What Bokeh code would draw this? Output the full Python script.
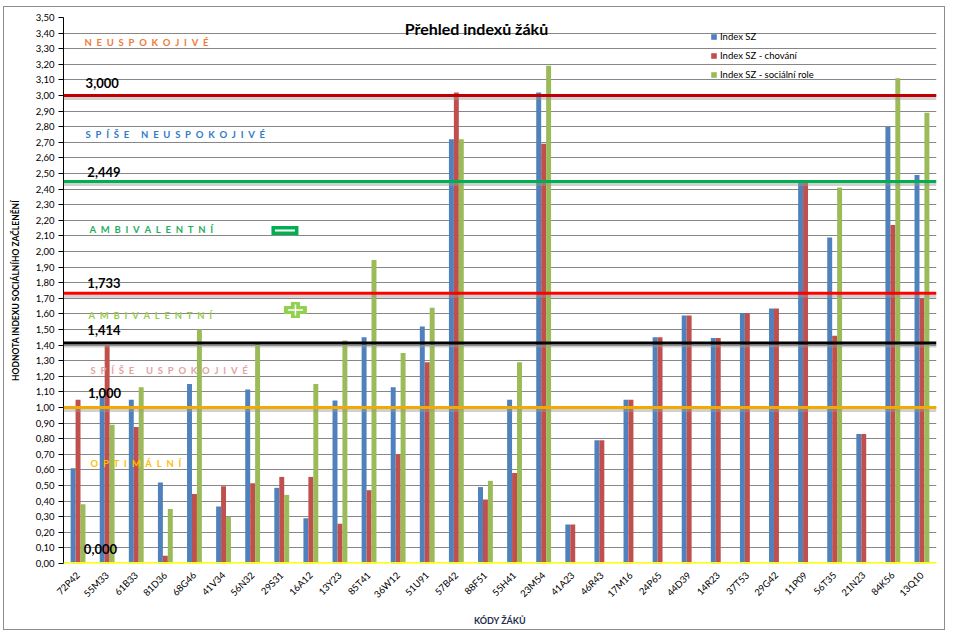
import math
from bokeh.plotting import figure
from bokeh.models import (ColumnDataSource, FactorRange, Range1d, FixedTicker,
                          CustomJSTickFormatter, Span, Label, Legend, LegendItem)
from bokeh.transform import dodge
from bokeh.embed import file_html
from bokeh.resources import INLINE

NaN = float("nan")

codes = ["72P42", "55M33", "61B33", "81D36", "68G46", "41V34", "56N32", "29S31",
         "16A12", "13Y23", "85T41", "36W12", "51U91", "57B42", "88F51", "55H41",
         "23M54", "41A23", "46R43", "17M16", "24P65", "44D39", "14R23", "37T53",
         "29G42", "11P09", "56T35", "21N23", "84K56", "13Q10"]

index_sz = [0.61, 1.07, 1.05, 0.52, 1.15, 0.365, 1.115, 0.485, 0.29, 1.045,
            1.45, 1.13, 1.52, 2.72, 0.49, 1.05, 3.02, 0.25, 0.79, 1.05,
            1.45, 1.59, 1.445, 1.605, 1.635, 2.44, 2.09, 0.83, 2.80, 2.49]

index_chovani = [1.05, 1.40, 0.875, 0.05, 0.445, 0.495, 0.515, 0.555, 0.555, 0.255,
                 0.47, 0.70, 1.29, 3.02, 0.41, 0.58, 2.69, 0.25, 0.79, 1.05,
                 1.45, 1.59, 1.445, 1.605, 1.635, 2.44, 1.46, 0.83, 2.17, 1.70]

index_role = [0.38, 0.89, 1.13, 0.35, 1.50, 0.30, 1.41, 0.44, 1.15, 1.43,
              1.945, 1.35, 1.64, 2.72, 0.53, 1.29, 3.19, NaN, NaN, NaN,
              NaN, NaN, NaN, NaN, NaN, NaN, 2.41, NaN, 3.11, 2.89]

series_names = ["Index SZ", "Index SZ - chování", "Index SZ - sociální role"]
series_colors = ["#4F81BD", "#C0504D", "#9BBB59"]

thresholds = [3.0, 2.449, 1.733, 1.414, 1.0, 0.0]
threshold_texts = ["3,000", "2,449", "1,733", "1,414", "1,000", "0,000"]
threshold_colors = ["#C00000", "#00B050", "#FF0000", "#000000", "#F2A900", "#FFFF00"]

zone_texts = ["NEUSPOKOJIVÉ", "SPÍŠE NEUSPOKOJIVÉ", "AMBIVALENTNÍ",
              "AMBIVALENTNÍ", "SPÍŠE USPOKOJIVÉ", "OPTIMÁLNÍ"]
zone_colors = ["#F07A3A", "#2F7BC8", "#1DB060", "#9BCB50", "#E3A3A2", "#FFC000"]

# label placement (styling positions)
zone_label_y = [3.34, 2.75, 2.14, 1.59, 1.24, 0.64]
zone_label_x = [0.72, 0.76, 0.89, 0.86, 0.93, 0.93]
thr_label_y = [3.08, 2.51, 1.80, 1.50, 1.09, 0.09]
thr_label_x = [0.76, 0.82, 0.82, 0.82, 0.84, 0.70]

FONT = "Lato"

src = ColumnDataSource(dict(code=codes, sz=index_sz, ch=index_chovani, role=index_role))

p = figure(x_range=FactorRange(factors=codes, range_padding=0),
           y_range=Range1d(0, 3.5), width=942, height=624,
           output_backend="svg", toolbar_location=None,
           min_border_left=59, min_border_right=10, min_border_top=10, min_border_bottom=68)
p.styles = {"border": "1px solid #8c8c8c", "margin-left": "3px", "margin-top": "6px"}
p.outline_line_color = None
p.background_fill_color = "white"
p.border_fill_color = "white"

bw = 0.17
renderers = []
for col, off, color in zip(["sz", "ch", "role"], [-bw, 0, bw], series_colors):
    r = p.vbar(x=dodge("code", off, range=p.x_range), top=col, width=bw,
               source=src, fill_color=color, line_color=None)
    renderers.append(r)

# threshold lines with soft shadow
for t, c in zip(thresholds, threshold_colors):
    p.add_layout(Span(location=t - 0.02, dimension="width", line_color="#9a9a9a",
                      line_alpha=0.45, line_width=3))
    p.add_layout(Span(location=t, dimension="width", line_color=c, line_width=3))

for txt, x, y in zip(threshold_texts, thr_label_x, thr_label_y):
    p.add_layout(Label(x=x, y=y, text=txt, text_font=FONT, text_font_size="13px",
                       text_font_style="bold", text_color="black",
                       text_baseline="middle", text_align="left"))

def spaced(s):
    return "\u2003\u2002".join("\u2002".join(w) for w in s.split())

for txt, c, x, y in zip(zone_texts, zone_colors, zone_label_x, zone_label_y):
    p.add_layout(Label(x=x, y=y, text=spaced(txt), text_font=FONT, text_font_size="9.5px",
                       text_font_style="bold", text_color=c,
                       text_baseline="middle", text_align="left"))

# minus and plus symbols
p.rect(x=[7.61], y=[2.134], width=27, height=9, width_units="screen",
       height_units="screen", fill_color="#00B050", line_color=None)
p.rect(x=[7.61], y=[2.134], width=20, height=2, width_units="screen",
       height_units="screen", fill_color="white", line_color=None)
p.rect(x=[7.97], y=[1.625], width=23, height=8, width_units="screen",
       height_units="screen", fill_color="#92D050", line_color=None)
p.rect(x=[7.97], y=[1.625], width=9, height=16, width_units="screen",
       height_units="screen", fill_color="#92D050", line_color=None)
p.rect(x=[7.97], y=[1.625], width=15, height=1.5, width_units="screen",
       height_units="screen", fill_color="white", line_color=None)
p.rect(x=[7.97], y=[1.625], width=1.5, height=11, width_units="screen",
       height_units="screen", fill_color="white", line_color=None)

# title
p.add_layout(Label(x=14.19, y=3.43, text="Přehled indexů žáků", text_font=FONT,
                   text_font_size="16px", text_font_style="bold", text_color="black",
                   text_align="center", text_baseline="middle"))

# axes
p.yaxis.ticker = FixedTicker(ticks=[i / 10 for i in range(36)])
p.yaxis.formatter = CustomJSTickFormatter(code="return tick.toFixed(2).replace('.', ',');")
p.yaxis.minor_tick_line_color = None
p.yaxis.major_tick_in = 0
p.yaxis.major_tick_out = 5
p.yaxis.axis_line_color = "black"
p.yaxis.major_tick_line_color = "black"
p.yaxis.major_label_text_font = FONT
p.yaxis.major_label_text_font_size = "9.5px"
p.yaxis.major_label_text_color = "black"
p.yaxis.major_label_standoff = 4
p.yaxis.axis_label = "HODNOTA INDEXU SOCIÁLNÍHO ZAČLENĚNÍ"
p.yaxis.axis_label_text_font = FONT
p.yaxis.axis_label_text_font_size = "8.5px"
p.yaxis.axis_label_text_font_style = "bold"
p.yaxis.axis_label_text_color = "black"
p.yaxis.axis_label_standoff = 12

p.xaxis.major_label_orientation = math.pi / 4
p.xaxis.major_tick_line_color = None
p.xaxis.minor_tick_line_color = None
p.xaxis.axis_line_color = None
p.xaxis.major_label_text_font = FONT
p.xaxis.major_label_text_font_size = "9.5px"
p.xaxis.major_label_text_color = "black"
p.xaxis.major_label_standoff = 4
p.xaxis.axis_label = "KÓDY ŽÁKŮ"
p.xaxis.axis_label_text_font = FONT
p.xaxis.axis_label_text_font_size = "9px"
p.xaxis.axis_label_text_font_style = "bold"
p.xaxis.axis_label_text_color = "#1F2D4D"
p.xaxis.axis_label_standoff = 8

p.xgrid.grid_line_color = None
p.ygrid.grid_line_color = "#878787"
p.ygrid.grid_line_width = 1

legend = Legend(items=[LegendItem(label=n, renderers=[r]) for n, r in zip(series_names, renderers)],
                location=(647, 483), background_fill_alpha=0, border_line_color=None,
                label_text_font=FONT, label_text_font_size="9.5px", label_text_color="black",
                glyph_width=7, glyph_height=7, label_height=10, spacing=8,
                padding=0, margin=0, label_standoff=3)
p.add_layout(legend)

open("out.html", "w").write(file_html(p, INLINE, title="Přehled indexů žáků"))
